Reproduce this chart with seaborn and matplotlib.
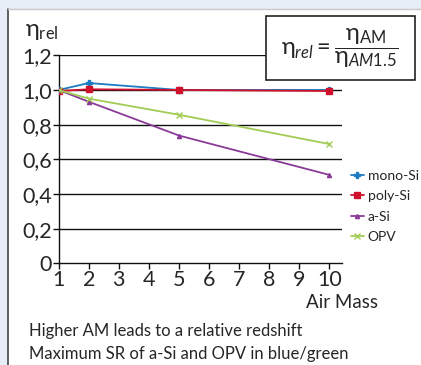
import pandas as pd
import matplotlib.pyplot as plt
import seaborn as sns
from matplotlib.patches import Rectangle
from matplotlib.lines import Line2D

# ── Data ──────────────────────────────────────────────
air_mass = [1, 2, 5, 10]
mono_si = [1.00, 1.04, 1.00, 1.00]
poly_si = [0.994, 1.004, 1.00, 0.994]
a_si = [1.00, 0.932, 0.737, 0.51]
opv = [1.00, 0.95, 0.857, 0.688]
series_names = ['mono-Si', 'poly-Si', 'a-Si', 'OPV']
y_ticks = [0, 0.2, 0.4, 0.6, 0.8, 1.0, 1.2]
y_tick_labels = ['0', '0,2', '0,4', '0,6', '0,8', '1,0', '1,2']
x_ticks = list(range(1, 11))

df = pd.DataFrame({
    'Air Mass': air_mass * 4,
    'eta': mono_si + poly_si + a_si + opv,
    'Cell': [n for n in series_names for _ in air_mass],
})

colors = {'mono-Si': '#1d7cc4', 'poly-Si': '#d1102b', 'a-Si': '#8a3a98', 'OPV': '#a2cc55'}
markers = {'mono-Si': 'P', 'poly-Si': 's', 'a-Si': '^', 'OPV': 'x'}
msizes = {'mono-Si': 4, 'poly-Si': 4.5, 'a-Si': 3, 'OPV': 4.5}

sns.set_style('white')
plt.rcParams['font.family'] = ['Lato', 'DejaVu Sans']
plt.rcParams['mathtext.fontset'] = 'custom'
plt.rcParams['mathtext.rm'] = 'Lato'
plt.rcParams['mathtext.it'] = 'Lato:italic'

fig = plt.figure(figsize=(4.21, 3.65), dpi=100)
fig.patch.set_facecolor('#e7eef7')

# white panel
fig.patches.append(Rectangle((8 / 421, 0), 1.0, 1 - 9 / 365, transform=fig.transFigure,
                             facecolor='white', edgecolor='none', zorder=-1))
fig.add_artist(Line2D([8 / 421, 8 / 421], [0, 1 - 9 / 365], transform=fig.transFigure,
                      color='#444444', lw=1.2))
fig.add_artist(Line2D([8 / 421, 1], [1 - 9 / 365, 1 - 9 / 365], transform=fig.transFigure,
                      color='#c8c8c8', lw=1.0))

ax = fig.add_axes([58.7 / 421, 1 - 263.3 / 365, 283 / 421, 208 / 365])
ax.patch.set_alpha(0)

for n in series_names:
    sns.lineplot(data=df[df['Cell'] == n], x='Air Mass', y='eta', color=colors[n],
                 marker=markers[n], markersize=msizes[n], markeredgewidth=1.0,
                 markeredgecolor=colors[n], linewidth=1.3, ax=ax, zorder=3)

ax.set_xlim(1, 10.41)
ax.set_ylim(0, 1.2)
ax.set_yticks(y_ticks)
ax.set_yticklabels(y_tick_labels)
ax.set_xticks(x_ticks)
ax.set_xlabel('')
ax.set_ylabel('')
for y in y_ticks[1:]:
    ax.axhline(y, color='#111111', lw=1.0, zorder=0.5)
for s in ['top', 'right']:
    ax.spines[s].set_visible(False)
for s in ['left', 'bottom']:
    ax.spines[s].set_color('#111111')
    ax.spines[s].set_linewidth(1.0)
ax.tick_params(axis='both', direction='out', length=4, width=1.0, color='#111111',
               labelsize=15.5, pad=1, left=True, bottom=True)

# legend
handles = [Line2D([], [], color=colors[n], marker=markers[n], lw=1.3, markersize=msizes[n],
                  markeredgewidth=1.0) for n in series_names]
fig.legend(handles, series_names, loc='upper left', bbox_to_anchor=(351 / 421, 1 - 170 / 365),
           frameon=False, fontsize=10, handlelength=0.9, handletextpad=0.3,
           labelspacing=0.6, borderpad=0, borderaxespad=0)

# labels
fig.text(25 / 421, 1 - 31 / 365, r'$\mathrm{\eta}_{\mathrm{rel}}$', fontsize=17,
         va='center', ha='left')
fig.text(378 / 421, 1 - 302 / 365, 'Air Mass', fontsize=13.5, ha='right', va='center')
fig.text(29 / 421, 1 - 331 / 365, 'Higher AM leads to a relative redshift', fontsize=12,
         ha='left', va='center')
fig.text(29 / 421, 1 - 354 / 365, 'Maximum SR of a-Si and OPV in blue/green', fontsize=12,
         ha='left', va='center')

# formula box
fig.patches.append(Rectangle((266 / 421, 1 - 80 / 365), 149 / 421, 64 / 365,
                             transform=fig.transFigure, facecolor='white',
                             edgecolor='#222222', lw=1.2, zorder=5))
fig.text(340 / 421, 1 - 48 / 365,
         r'$\mathrm{\eta}_{rel} = \dfrac{\mathrm{\eta}_{\mathrm{AM}}}{\mathrm{\eta}_{AM1.5}}$',
         fontsize=17, ha='center', va='center', zorder=6)

plt.savefig('out.png', dpi=100)
plt.close()
